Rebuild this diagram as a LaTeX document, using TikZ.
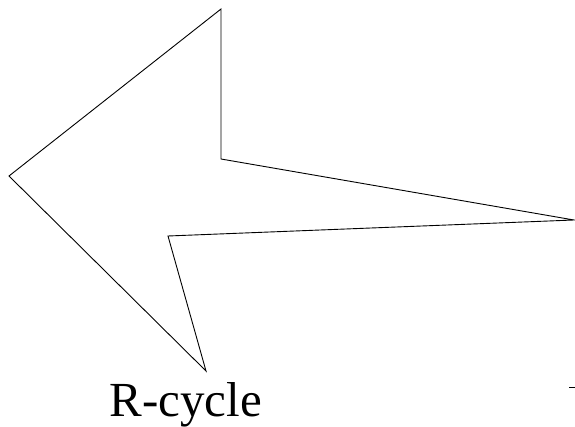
\documentclass[tikz,border=0pt]{standalone}
\usepackage{fontspec}
\setmainfont{Liberation Serif}
\begin{document}
\begin{tikzpicture}[x=1pt,y=-1pt,
  outline/.style={draw=black,line width=0.9pt,line join=miter},
  caption/.style={font=\fontsize{49}{55}\selectfont,anchor=base west,inner sep=0pt}]
  \useasboundingbox (0,0) rectangle (575,427);
  % arrow-shaped outline
  \coordinate (top) at (221,9);
  \coordinate (inA) at (221,159);
  \coordinate (tip) at (574,220);
  \coordinate (inB) at (168,236);
  \coordinate (bot) at (206,371);
  \coordinate (left) at (9,176);
  \draw[outline] (top) -- (inA) -- (tip) -- (inB) -- (bot) -- (left) -- cycle;
  % label
  \node[caption] (lbl) at (109.5,416.5) {R-cycle};
  % small tick
  \coordinate (t1) at (569,387.5);
  \coordinate (t2) at (575,387.5);
  \draw[line width=0.9pt] (t1) -- (t2);
\end{tikzpicture}
\end{document}
